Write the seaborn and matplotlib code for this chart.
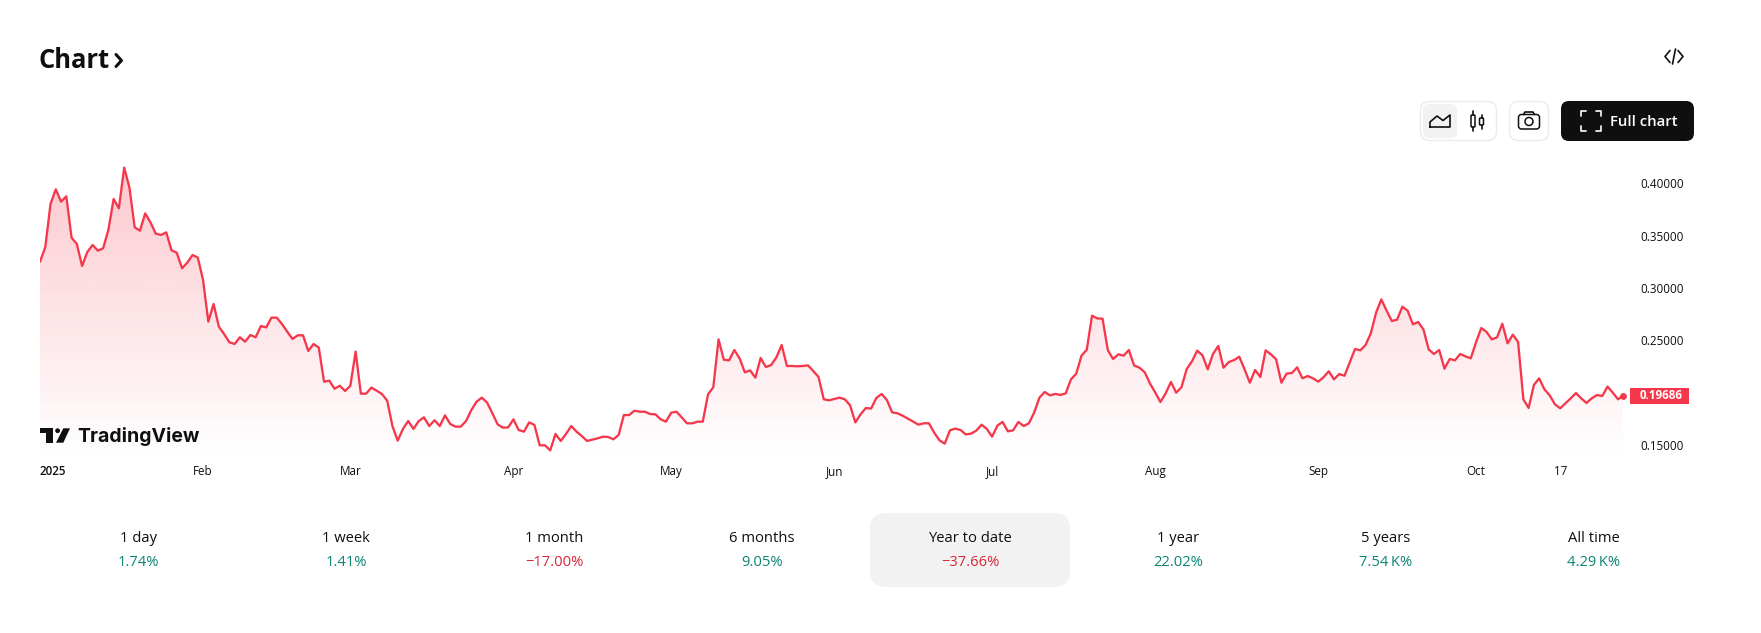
import numpy as np
import pandas as pd
import matplotlib
matplotlib.use('Agg')
import matplotlib.pyplot as plt
import matplotlib.dates as mdates
from matplotlib.patches import FancyBboxPatch, Rectangle, Polygon, Circle
import seaborn as sns

start_date = '2025-01-01'
price = [
    0.3251, 0.3389, 0.3804, 0.3944, 0.3826, 0.3877, 0.3481, 0.3421, 0.3210, 0.3344,
    0.3411, 0.3357, 0.3379, 0.3555, 0.3852, 0.3762, 0.4152, 0.3963, 0.3580, 0.3548,
    0.3714, 0.3628, 0.3520, 0.3507, 0.3532, 0.3360, 0.3337, 0.3188, 0.3242, 0.3315,
    0.3290, 0.3076, 0.2677, 0.2846, 0.2629, 0.2558, 0.2479, 0.2463, 0.2527, 0.2485,
    0.2549, 0.2527, 0.2635, 0.2622, 0.2715, 0.2715, 0.2654, 0.2581, 0.2511, 0.2546,
    0.2546, 0.2396, 0.2463, 0.2428, 0.2102, 0.2111, 0.2034, 0.2063, 0.2012, 0.2063,
    0.2390, 0.1987, 0.1987, 0.2045, 0.2016, 0.1984, 0.1920, 0.1677, 0.1537,
    0.1649, 0.1725, 0.1649, 0.1725, 0.1760, 0.1677, 0.1732, 0.1677, 0.1779, 0.1696,
    0.1671, 0.1671, 0.1725, 0.1830, 0.1910, 0.1949, 0.1901, 0.1799, 0.1693, 0.1661,
    0.1664, 0.1741, 0.1639, 0.1623, 0.1712, 0.1687, 0.1492, 0.1492, 0.1444, 0.1601,
    0.1534, 0.1601, 0.1677, 0.1623, 0.1581, 0.1534, 0.1547, 0.1559, 0.1575, 0.1572,
    0.1550, 0.1591, 0.1782, 0.1782, 0.1824, 0.1814, 0.1814, 0.1792, 0.1789, 0.1741,
    0.1719, 0.1805, 0.1814, 0.1760, 0.1703, 0.1703, 0.1719, 0.1719, 0.1981, 0.2048,
    0.2507, 0.2312, 0.2306, 0.2405, 0.2325, 0.2191, 0.2210, 0.2140, 0.2329, 0.2242,
    0.2261, 0.2335, 0.2453, 0.2252, 0.2252, 0.2249,
    0.2252, 0.2258, 0.2204, 0.2147, 0.1933, 0.1923, 0.1936, 0.1949, 0.1933, 0.1876,
    0.1712, 0.1789, 0.1850, 0.1844, 0.1946, 0.1984, 0.1926, 0.1808, 0.1799, 0.1776,
    0.1748, 0.1719, 0.1690, 0.1703, 0.1703, 0.1613, 0.1540, 0.1508, 0.1636, 0.1652,
    0.1639, 0.1597, 0.1604, 0.1633, 0.1690, 0.1649, 0.1575, 0.1680, 0.1716, 0.1626,
    0.1636, 0.1716, 0.1677, 0.1703, 0.1805, 0.1949, 0.2003, 0.1971, 0.1984, 0.1975,
    0.1990, 0.2124, 0.2179, 0.2351, 0.2408, 0.2734, 0.2708, 0.2705, 0.2405, 0.2319,
    0.2364, 0.2351, 0.2405, 0.2258, 0.2236, 0.2194, 0.2086, 0.2000, 0.1907, 0.1990,
    0.2099, 0.1997, 0.2048, 0.2223, 0.2296, 0.2399, 0.2354,
    0.2220, 0.2367, 0.2444, 0.2236, 0.2290, 0.2309, 0.2341, 0.2220, 0.2092, 0.2214,
    0.2147, 0.2402, 0.2364, 0.2316, 0.2092, 0.2179, 0.2185, 0.2239, 0.2134, 0.2156,
    0.2134, 0.2102, 0.2144, 0.2201, 0.2124, 0.2175, 0.2159, 0.2287, 0.2415, 0.2402,
    0.2453, 0.2565, 0.2763, 0.2890, 0.2782, 0.2683, 0.2696, 0.2820, 0.2782, 0.2651,
    0.2673, 0.2603, 0.2411, 0.2367, 0.2405, 0.2226, 0.2319, 0.2306, 0.2367, 0.2344,
    0.2325, 0.2479, 0.2616, 0.2578, 0.2507, 0.2527, 0.2657, 0.2469, 0.2552, 0.2482,
    0.1933, 0.1850, 0.2070, 0.2134, 0.2029, 0.1971, 0.1885, 0.1847, 0.1895, 0.1942,
    0.1993, 0.1942, 0.1898, 0.1942, 0.1974, 0.1965, 0.2054, 0.1997, 0.1933, 0.19686,
]
y_ticks = [0.15, 0.25, 0.30, 0.35, 0.40]
x_tick_dates = ['2025-01-01', '2025-02-01', '2025-03-01', '2025-04-01', '2025-05-01', '2025-06-01',
                '2025-07-01', '2025-08-01', '2025-09-01', '2025-10-01', '2025-10-17']
x_tick_labels = ['2025', 'Feb', 'Mar', 'Apr', 'May', 'Jun', 'Jul', 'Aug', 'Sep', 'Oct', '17']
periods = ['1 day', '1 week', '1 month', '6 months', 'Year to date', '1 year', '5 years', 'All time']
changes = ['1.74%', '1.41%', '\u221217.00%', '9.05%', '\u221237.66%', '22.02%', '7.54\u2009K%', '4.29\u2009K%']

W, H = 1761, 633
RED = '#f5374b'
GREEN = '#0a8475'
DARK = '#0f0f0f'
FONT = 'Open Sans'

sns.set_theme(style='white')
plt.rcParams['font.family'] = [FONT, 'DejaVu Sans']

df = pd.DataFrame({'date': pd.date_range(start_date, periods=len(price)), 'price': price})

fig = plt.figure(figsize=(W / 100, H / 100), dpi=100)

# page furniture, drawn in pixel coordinates
ov = fig.add_axes([0, 0, 1, 1], zorder=0)
ov.set_xlim(0, W)
ov.set_ylim(H, 0)
ov.axis('off')


def box(x0, y0, x1, y1, r, fc='none', ec='none', lw=1.0):
    ov.add_patch(FancyBboxPatch((x0 + r, y0 + r), x1 - x0 - 2 * r, y1 - y0 - 2 * r,
                                boxstyle=f'round,pad={r},rounding_size={r}', fc=fc, ec=ec, lw=lw))


def stroke(xs, ys, color=DARK, lw=1.2, **kw):
    ov.plot(xs, ys, color=color, lw=lw, solid_capstyle='round', solid_joinstyle='round', **kw)


# title
ov.text(38, 60, 'Chart', fontsize=18.4, fontweight='bold', color=DARK, va='center', ha='left')
stroke([116, 121.5, 116], [54.5, 60.5, 66.5], lw=2.2)

# embed icon
stroke([1670, 1665, 1670], [50.5, 56.5, 62.5])
stroke([1678, 1683, 1678], [50.5, 56.5, 62.5])
stroke([1672.5, 1675.5], [64, 49])

# chart type group
box(1420.5, 101.5, 1496.5, 140.5, 9, ec='#ebebeb')
box(1423, 104, 1457, 138, 6, fc='#f2f2f2')
stroke([1430, 1430, 1437, 1443, 1450, 1450, 1430], [127, 122, 116, 120.5, 115, 127, 127])
for cx, top, bot, y0, y1 in [(1473, 111, 131, 115, 127), (1481.5, 115, 129, 118, 125)]:
    stroke([cx, cx], [top, y0])
    stroke([cx, cx], [y1, bot])
    box(cx - 2, y0, cx + 2, y1, 1, ec=DARK, lw=1.1)

# camera button
box(1509.5, 101.5, 1548.5, 140.5, 9, ec='#ebebeb')
box(1518.5, 114.5, 1539.5, 129, 3, ec=DARK, lw=1.1)
stroke([1523.5, 1525, 1533, 1534.5], [114.5, 112, 112, 114.5])
ov.add_patch(Circle((1529, 121.5), 4, fc='none', ec=DARK, lw=1.1))

# full chart button
box(1561, 101, 1694, 141, 8, fc=DARK)
for sx, sy in [(1, 1), (-1, 1), (1, -1), (-1, -1)]:
    cx, cy = 1591 - sx * 10, 121 - sy * 10
    stroke([cx + sx * 5, cx, cx], [cy, cy, cy + sy * 5], color='white', lw=1.2)
ov.text(1643.5, 122.5, 'Full chart', fontsize=10.7, fontweight='semibold', color='white', ha='center', va='center')

# period strip
box(870, 513, 1070, 587, 16, fc='#f2f2f2')
for i, (label, change) in enumerate(zip(periods, changes)):
    cx = 138 + 208 * i
    ov.text(cx, 538.5, label, fontsize=10.6, color=DARK, ha='center', va='center')
    ov.text(cx, 563, change, fontsize=10.6, color='#d9263a' if change.startswith('\u2212') else GREEN,
            ha='center', va='center')

# price chart
x_left, x_right = 40, 1623.3
y_top, y_bottom = 125, 456
px_per_unit = 1044
ax = fig.add_axes([x_left / W, 1 - y_bottom / H, (x_right - x_left) / W, (y_bottom - y_top) / H], zorder=1)
ax.patch.set_alpha(0)

sns.lineplot(data=df, x='date', y='price', ax=ax, color=RED, linewidth=1.65, zorder=3)

x_num = mdates.date2num(df['date'])
y_max = 0.40 + (183.5 - y_top) / px_per_unit
y_min = 0.40 - (y_bottom - 183.5) / px_per_unit
area = ax.fill_between(x_num, price, y_min, color='none')
alpha = np.linspace(0.27, 0.0, 256).reshape(-1, 1)
shade = np.dstack([np.full_like(alpha, c) for c in matplotlib.colors.to_rgb(RED)] + [alpha])
img = ax.imshow(shade, extent=[x_num[0], x_num[-1], y_min, 0.40 + 13 / px_per_unit], aspect='auto', origin='upper', zorder=1)
img.set_clip_path(area.get_paths()[0], transform=ax.transData)

ax.scatter(x_num[-1:], price[-1:], s=24, color=RED, linewidth=0, zorder=4, clip_on=False)

ax.set_xlim(x_num[0], x_num[-1])
ax.set_ylim(y_min, y_max)
ax.yaxis.tick_right()
ax.set_yticks(y_ticks)
ax.set_yticklabels([f'{v:.5f}' for v in y_ticks])
ax.set_xticks(mdates.date2num(pd.to_datetime(x_tick_dates)))
ax.set_xticklabels(x_tick_labels, va='baseline')
ax.tick_params(axis='y', length=0, pad=12.0, labelsize=8.4, labelcolor=DARK)
ax.tick_params(axis='x', length=0, pad=13.5, labelsize=8.4, labelcolor=DARK)
ax.set_xlabel('')
ax.set_ylabel('')
first = ax.xaxis.get_ticklabels()[0]
first.set_ha('left')
first.set_x(x_num[0] - 0.4)
first.set_fontweight('semibold')
sns.despine(ax=ax, left=True, bottom=True, right=True, top=True)

# last price tag
ov.add_patch(Rectangle((1630, 388), 59, 16, fc=RED, ec='none'))
top = fig.add_axes([0, 0, 1, 1], zorder=2)
top.set_xlim(0, W)
top.set_ylim(H, 0)
top.axis('off')
top.text(1661, 395.5, f'{price[-1]:.5f}', fontsize=8.4, fontweight='bold', color='white', ha='center', va='center')

# logo
top.add_patch(Polygon([(40, 428.3), (53.3, 428.3), (53.3, 442.7), (45.7, 442.7), (45.7, 433.3), (40, 433.3)], fc=DARK, ec='none'))
top.add_patch(Circle((57.6, 430.7), 2.4, fc=DARK, ec='none'))
top.add_patch(Polygon([(63.3, 428.3), (70, 428.3), (63.3, 442.7), (56, 442.7)], fc=DARK, ec='none'))
top.text(77, 436, 'TradingView', fontsize=14, fontweight='bold', color=DARK, ha='left', va='center', family=['Inter', 'DejaVu Sans'])

fig.savefig('out.png', dpi=100)
